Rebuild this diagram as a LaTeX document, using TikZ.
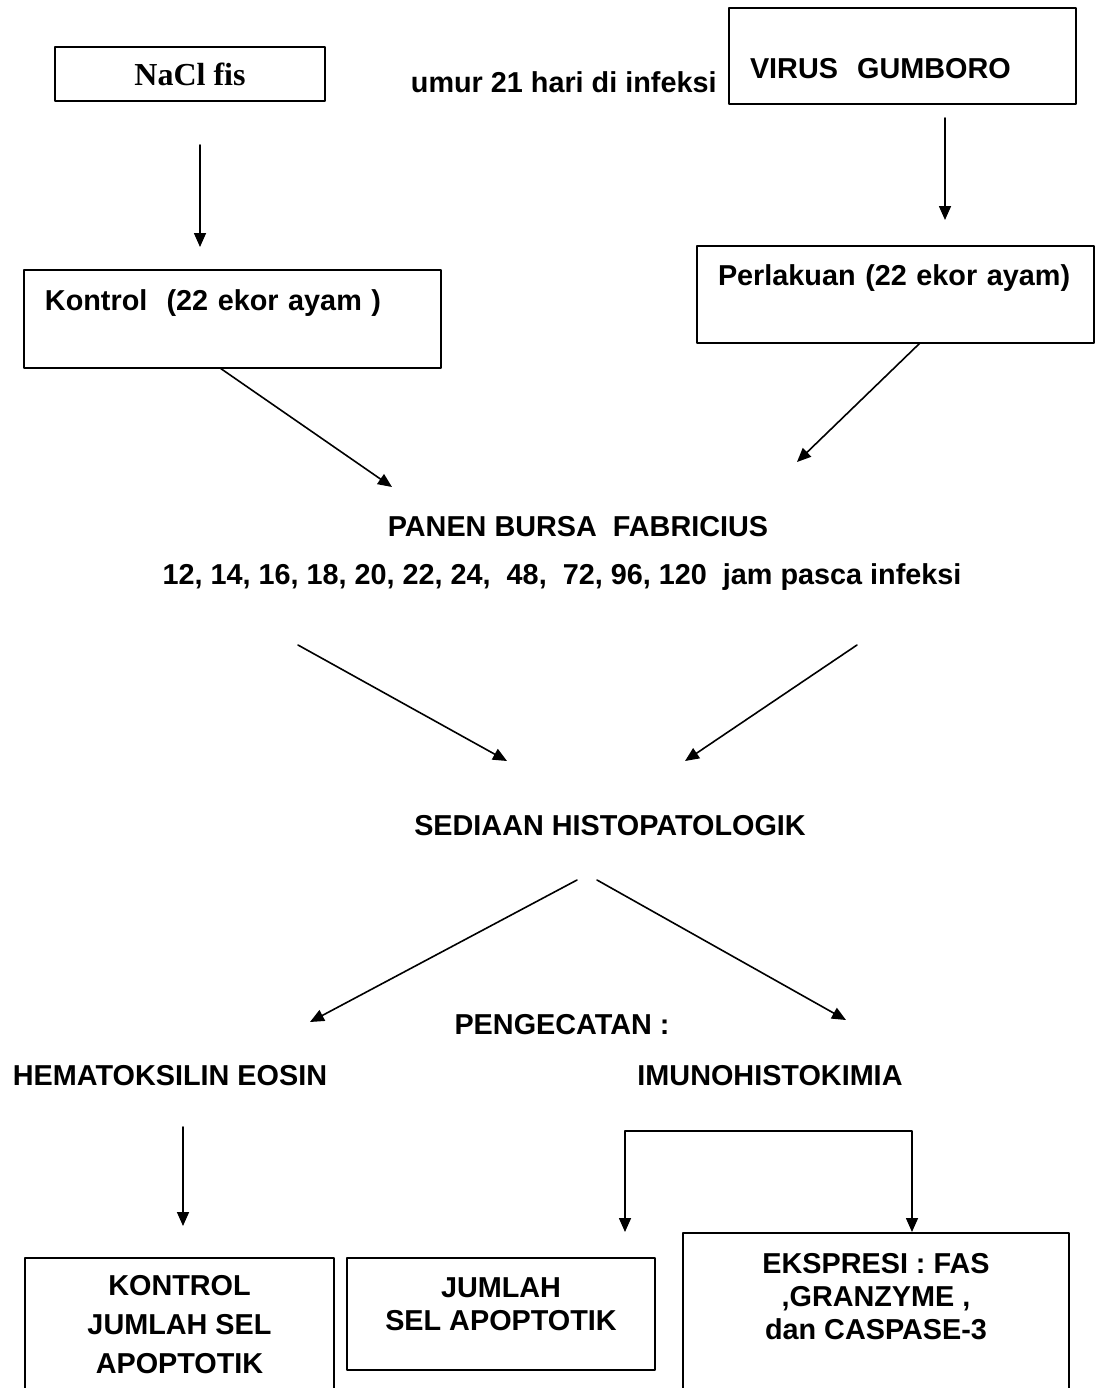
\documentclass[tikz,border=0pt]{standalone}
\usepackage{fontspec}
\setmainfont{Liberation Sans}
\newfontfamily\serifbox{Liberation Serif}
\usetikzlibrary{arrows.meta}
\tikzset{
  box/.style={draw,line width=1pt},
  txt/.style={inner sep=0pt,font=\bfseries\fontsize{14.4}{18}\selectfont},
  leftbox/.style={box,txt,inner xsep=10.5pt,align=left},
  arr/.style={line width=0.8pt,-{Triangle[length=7pt,width=6pt]}}
}
\begin{document}
\begin{tikzpicture}[x=0.5pt,y=-0.5pt,line join=round,line cap=round]
\useasboundingbox (0,0) rectangle (1096,1388);
% top row
\node[box,inner sep=0pt,minimum width=135pt,minimum height=27pt,
  font=\serifbox\bfseries\fontsize{16}{19}\selectfont] (nacl) at (190,74) {NaCl fis};
\node[txt,anchor=east] (umur) at (717,82) {umur 21 hari di infeksi};
\node[leftbox,text width=152.5pt,minimum height=48pt,text height=22.3pt,text depth=0pt] (virus) at (902.5,56) {VIRUS\ \ GUMBORO};
\node[leftbox,text width=187.5pt,minimum height=49pt,text height=10.3pt,text depth=19pt] (kontrol) at (232.5,319) {Kontrol\ \ (22 ekor ayam )};
\node[leftbox,text width=177.5pt,minimum height=48.5pt,text height=10.3pt,text depth=19.5pt] (perlakuan) at (895.5,294.5) {Perlakuan (22 ekor ayam)};
% middle
\node[txt] (panen) at (578,527) {PANEN BURSA\ \ FABRICIUS};
\node[txt] (jam) at (562,577) {12, 14, 16, 18, 20, 22, 24,\ \ 48,\ \ 72, 96, 120\ \ jam pasca infeksi};
\node[txt] (sediaan) at (610,826) {SEDIAAN HISTOPATOLOGIK};
\node[txt] (pengecatan) at (562,1025) {PENGECATAN :};
\node[txt] (he) at (170,1076) {HEMATOKSILIN EOSIN};
\node[txt] (ihk) at (770,1076) {IMUNOHISTOKIMIA};
% bottom row
\node[box,txt,align=center,minimum width=154.5pt,minimum height=67pt,
  font=\bfseries\fontsize{14.4}{19.5}\selectfont] (hasilkontrol) at (179.5,1325) {KONTROL\\JUMLAH SEL\\APOPTOTIK};
\node[box,txt,align=center,minimum width=154pt,minimum height=56pt,
  font=\bfseries\fontsize{14.4}{16.5}\selectfont] (jumlah) at (501,1314) {JUMLAH\\SEL APOPTOTIK\\[-7pt]\mbox{}};
\node[box,txt,align=center,minimum width=193pt,minimum height=79.5pt,
  font=\bfseries\fontsize{14.4}{16.5}\selectfont] (ekspresi) at (876,1312.5) {EKSPRESI : FAS\\,GRANZYME ,\\dan CASPASE-3\\\mbox{}};
% arrow ends
\coordinate (a1s) at (200,145);
\coordinate (a1e) at (200,247);
\coordinate (a2s) at (945,118);
\coordinate (a2e) at (945,220);
\coordinate (a3s) at (220,368);
\coordinate (a3e) at (392,487);
\coordinate (a4s) at (920,343);
\coordinate (a4e) at (797,462);
\coordinate (a5s) at (298,645);
\coordinate (a5e) at (507,761);
\coordinate (a6s) at (857,645);
\coordinate (a6e) at (685,761);
\coordinate (a7s) at (577,880);
\coordinate (a7e) at (310,1022);
\coordinate (a8s) at (597,880);
\coordinate (a8e) at (846,1020);
\coordinate (a9s) at (183,1127);
\coordinate (a9e) at (183,1226);
\coordinate (brl) at (625,1232);
\coordinate (brtop) at (625,1131);
\draw[arr] (a1s) -- (a1e);
\draw[arr] (a2s) -- (a2e);
\draw[arr] (a3s) -- (a3e);
\draw[arr] (a4s) -- (a4e);
\draw[arr] (a5s) -- (a5e);
\draw[arr] (a6s) -- (a6e);
\draw[arr] (a7s) -- (a7e);
\draw[arr] (a8s) -- (a8e);
\draw[arr] (a9s) -- (a9e);
\draw[arr] (brtop) -- (brl);
\draw[arr] (brtop) -- (brtop -| 912,0) -- (ekspresi.north -| 912,0);
\end{tikzpicture}
\end{document}
